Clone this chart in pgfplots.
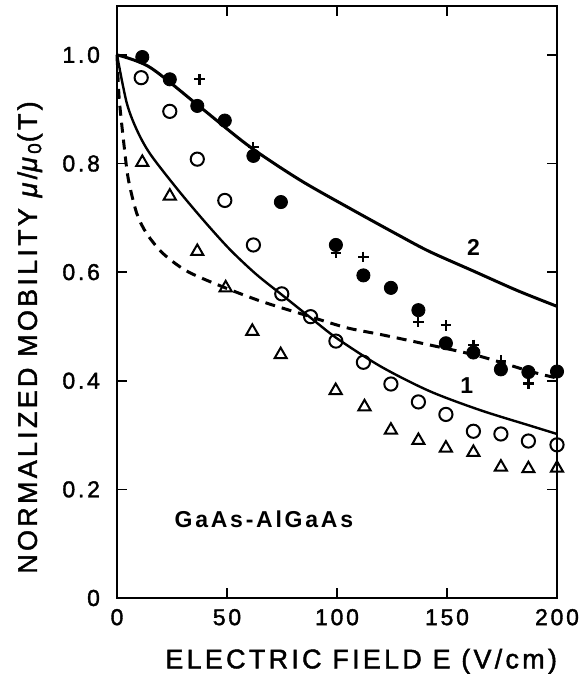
\documentclass[border=0pt]{standalone}
\usepackage{fontspec}
\setmainfont{Liberation Sans}
\newfontfamily\spaced{Liberation Sans}[LetterSpace=12, FakeBold=1.6]
\newfontfamily\spacedb{Liberation Sans Bold}[LetterSpace=12]
\usepackage{pgfplots}
\pgfplotsset{compat=1.18}

% filled circles
\pgfplotstableread{
x y
11.5 0.996
24 0.955
36.5 0.906
49 0.879
62 0.814
74.5 0.729
99.5 0.650
112 0.594
124.5 0.571
137 0.530
149.5 0.469
162 0.452
174.5 0.421
187 0.416
200 0.417
}\filled

% crosses
\pgfplotstableread{
x y
37.5 0.955
62 0.830
99.5 0.635
112 0.628
137 0.508
149.5 0.502
162 0.466
174.5 0.437
187 0.395
200 0.410
}\crosses

% open circles
\pgfplotstableread{
x y
11 0.958
24 0.896
36.5 0.808
49 0.732
62 0.650
74.9 0.560
88 0.518
99.5 0.473
112 0.434
124.5 0.394
137 0.361
149.5 0.338
162 0.307
174.5 0.302
187 0.289
200 0.282
}\opencirc

% triangles
\pgfplotstableread{
x y
11.5 0.802
24 0.740
36.5 0.638
49.4 0.571
61.5 0.491
74.4 0.448
99.4 0.382
112.5 0.352
124.5 0.309
137 0.290
149.5 0.276
162 0.268
174.5 0.241
187 0.238
200 0.239
}\triangles

\begin{document}
\begin{tikzpicture}
\begin{axis}[
    name=ax,
    width=220pt, height=296pt,
    scale only axis,
    xmin=0, xmax=200, ymin=0, ymax=1.09,
    xtick={0,50,100,150,200},
    ytick={0,0.2,0.4,0.6,0.8,1.0},
    yticklabels={0,0.2,0.4,0.6,0.8,1.0},
    tick align=inside,
    major tick length=5pt,
    axis line style={line width=1pt},
    every tick/.style={line width=0.8pt, black},
    /pgf/number format/assume math mode=true,
    tick label style={font=\spaced\fontsize{11.5}{13}\selectfont},
    xticklabel style={yshift=-2pt},
    yticklabel style={xshift=-5pt},
    xlabel={ELECTRIC FIELD E (V/cm)},
    ylabel={NORMALIZED MOBILITY \textit{μ}/\textit{μ}\textsubscript{0}(T)},
    label style={font=\spaced\fontsize{13.5}{15}\selectfont},
    xlabel style={at={(0.555,-0.107)}, anchor=center},
    ylabel style={at={(-0.198,0.44)}, anchor=center},
    clip=false,
]
% curve 2
\addplot[black, line width=1.5pt, smooth] coordinates {
(0,1.0) (15,0.977) (37.5,0.905) (60,0.832) (83,0.770) (106,0.717)
(128,0.668) (142,0.638) (162,0.602) (182,0.566) (200,0.537)};
% curve 1
\addplot[black, line width=1.2pt, smooth] coordinates {
(0,1.0) (4.4,0.912) (9,0.862) (15,0.818) (27,0.755) (39,0.697) (51,0.643)
(63,0.597) (75,0.558) (88,0.516) (100,0.478) (120,0.426) (142,0.381)
(165,0.346) (188,0.317) (200,0.302)};
% dashed curve
\addplot[black, line width=1.5pt, smooth, dash pattern=on 5pt off 3.5pt] coordinates {
(0,1.0) (1,0.92) (3.3,0.83) (5.2,0.77) (9,0.708) (13.5,0.671) (21,0.634)
(31.7,0.602) (46.8,0.575) (65,0.547) (84.7,0.522) (104,0.498) (120,0.485)
(142,0.466) (165,0.445) (188,0.417) (200,0.405)};

\addplot[only marks, mark=*, mark size=3.3pt, black] table {\filled};
\addplot[only marks, mark=+, mark size=2.6pt, black, line width=1.1pt] table {\crosses};
\addplot[only marks, mark=o, mark size=3.3pt, black, line width=1pt, fill=white] table {\opencirc};
\addplot[only marks, mark=triangle, mark size=3.5pt, black, line width=1pt] table {\triangles};

\node[font=\spacedb\fontsize{11.5}{13}\selectfont] at (axis cs:162,0.646) {2};
\node[font=\spacedb\fontsize{11.5}{13}\selectfont] at (axis cs:159,0.392) {1};
\node[font=\spacedb\fontsize{11.5}{13}\selectfont, anchor=west] at (axis cs:23,0.145) {GaAs-AlGaAs};
\end{axis}
\pgfresetboundingbox
\path ([xshift=-58.5pt,yshift=-38pt]ax.south west) rectangle ([xshift=13.5pt,yshift=3pt]ax.north east);
\end{tikzpicture}
\end{document}
